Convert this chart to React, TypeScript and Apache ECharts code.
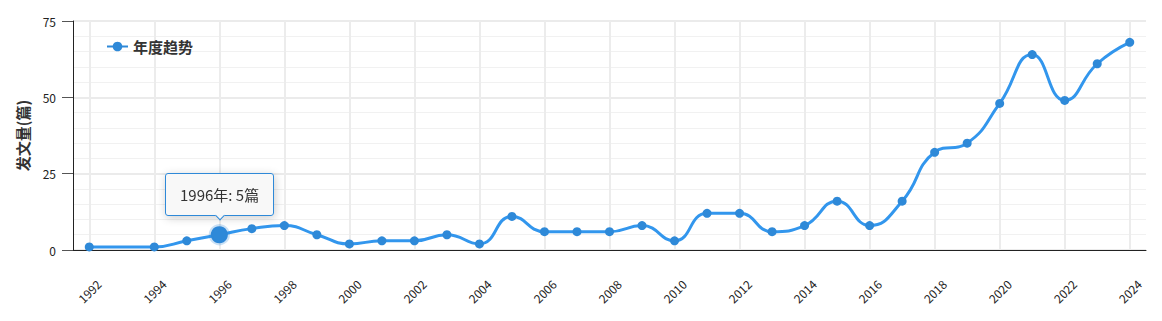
import React, { useEffect, useRef } from "react";
import * as echarts from "echarts";

const years: string[] = [
  "1992", "1993", "1994", "1995", "1996", "1997", "1998", "1999", "2000", "2001",
  "2002", "2003", "2004", "2005", "2006", "2007", "2008", "2009", "2010", "2011",
  "2012", "2013", "2014", "2015", "2016", "2017", "2018", "2019", "2020", "2021",
  "2022", "2023", "2024",
];
const counts: (number | null)[] = [
  1, null, 1, 3, 5, 7, 8, 5, 2, 3,
  3, 5, 2, 11, 6, 6, 6, 8, 3, 12,
  12, 6, 8, 16, 8, 16, 32, 35, 48, 64,
  49, 61, 68,
];
const yTicks = { min: 0, max: 75, interval: 25 };
const seriesName = "年度趋势";
const yName = "发文量(篇)";
const highlightYear = "1996";

const BLUE = "#2e89d8";
const FONT = "'Noto Sans CJK SC', 'Noto Sans', sans-serif";

export default function App() {
  const ref = useRef<HTMLDivElement>(null);
  useEffect(() => {
    if (!ref.current) return;
    document.body.style.margin = "0";
    const chart = echarts.init(ref.current, undefined, { renderer: "svg" });
    chart.setOption({
      animation: false,
      textStyle: { fontFamily: FONT },
      grid: { left: 73, right: 16, top: 21, bottom: 71, containLabel: false },
      legend: {
        left: 101,
        top: 34,
        itemWidth: 21,
        itemHeight: 12,
        textStyle: { fontSize: 15, fontWeight: "bold", color: "#333", fontFamily: FONT },
        data: [seriesName],
      },
      tooltip: {
        trigger: "item",
        position: "top",
        backgroundColor: "rgba(248,248,248,0.97)",
        borderColor: BLUE,
        borderWidth: 1,
        borderRadius: 3,
        padding: [9, 14],
        extraCssText: "margin-top:-4px;",
        textStyle: { fontSize: 15, color: "#333", fontFamily: FONT },
        formatter: (p: any) => `${p.name}年: ${p.value}篇`,
      },
      xAxis: {
        type: "category",
        data: years,
        boundaryGap: true,
        axisLine: { lineStyle: { color: "#222", width: 1 } },
        axisTick: {
          alignWithLabel: true,
          interval: 1,
          length: 11,
          lineStyle: { color: "#555", width: 1 },
        },
        axisLabel: {
          interval: 1,
          rotate: 45,
          align: "center",
          verticalAlign: "middle",
          margin: 41,
          fontSize: 12,
          color: "#222",
          fontFamily: FONT,
        },
        splitLine: {
          show: true,
          interval: 1,
          alignWithLabel: true,
          lineStyle: { color: "#ececec", width: 2 },
        } as any,
      },
      yAxis: {
        type: "value",
        min: yTicks.min,
        max: yTicks.max,
        interval: yTicks.interval,
        name: yName,
        nameLocation: "middle",
        nameGap: 43,
        nameTextStyle: { fontSize: 15, fontWeight: "bold", color: "#333", fontFamily: FONT },
        axisLine: { show: true, lineStyle: { color: "#222", width: 1 } },
        axisTick: { show: true, length: 11, lineStyle: { color: "#555" } },
        axisLabel: { margin: 17, fontSize: 12, color: "#222", fontFamily: FONT },
        splitLine: { show: true, lineStyle: { color: "#e4e4e4", width: 1.5 } },
        minorSplitLine: { show: true, lineStyle: { color: "#f1f1f1", width: 1 } },
      },
      series: [
        {
          name: seriesName,
          type: "line",
          data: counts,
          connectNulls: true,
          smooth: true,
          symbol: "circle",
          symbolSize: 9,
          showSymbol: true,
          lineStyle: { color: BLUE, width: 3 },
          itemStyle: { color: BLUE },
          emphasis: {
            scale: 1.9,
            itemStyle: { color: BLUE, borderColor: "rgba(46,137,216,0.25)", borderWidth: 4 },
            lineStyle: { width: 3 },
          },
        },
      ],
    });
    const idx = years.indexOf(highlightYear);
    chart.dispatchAction({ type: "highlight", seriesIndex: 0, dataIndex: idx });
    chart.dispatchAction({ type: "showTip", seriesIndex: 0, dataIndex: idx });
    return () => chart.dispose();
  }, []);
  return <div ref={ref} style={{ width: 1162, height: 321 }} />;
}
